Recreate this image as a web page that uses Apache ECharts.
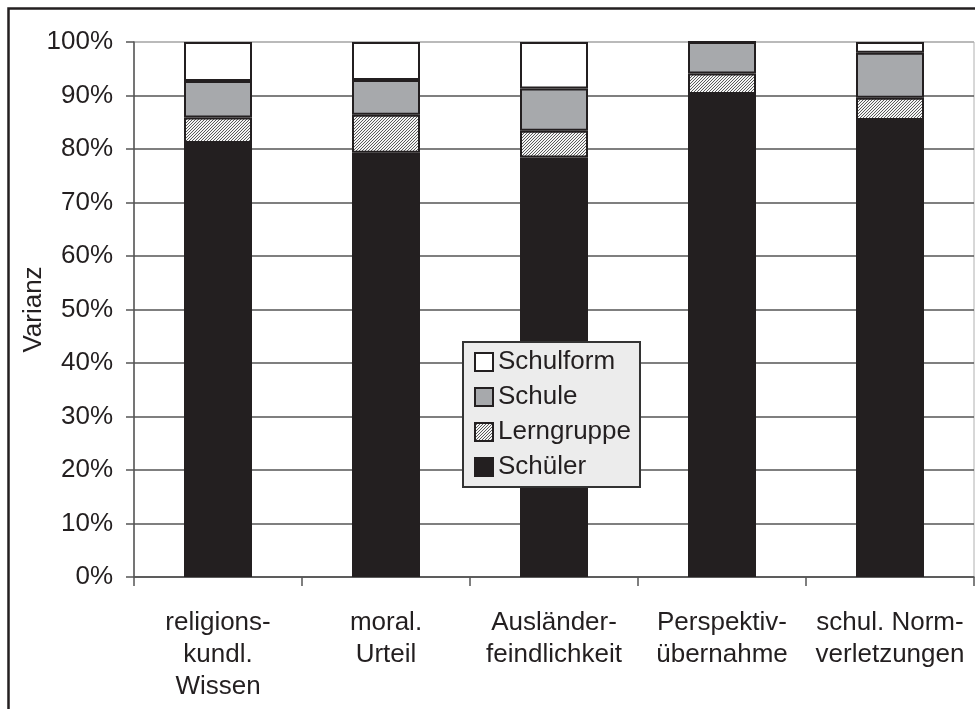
<!DOCTYPE html>
<html>
<head>
<meta charset="utf-8">
<script src="https://cdn.jsdelivr.net/npm/echarts@6/dist/echarts.min.js"></script>
<style>html,body{margin:0;padding:0;background:#fff}#c{width:975px;height:709px}</style>
</head>
<body>
<div id="c"></div>
<script>
const categories = ['religions-\nkundl.\nWissen', 'moral.\nUrteil', 'Ausländer-\nfeindlichkeit', 'Perspektiv-\nübernahme', 'schul. Norm-\nverletzungen'];
const schueler   = [81.1, 79.3, 78.4, 90.3, 85.4];
const lerngruppe = [4.8, 7.1, 5.0, 3.8, 4.2];
const schule     = [6.8, 6.5, 7.9, 5.9, 8.4];
const schulform  = [7.3, 7.1, 8.7, 0.0, 2.0];
const yTicks = [0, 10, 20, 30, 40, 50, 60, 70, 80, 90, 100];

const ink = '#231f20';
const font = 'Liberation Sans, Arial, sans-serif';

// fine hatch pattern
const pc = document.createElement('canvas');
pc.width = 3; pc.height = 3;
const g = pc.getContext('2d');
g.fillStyle = '#f4f4f4'; g.fillRect(0, 0, 3, 3);
g.fillStyle = '#5a5a5a';
for (let i = 0; i < 3; i++) { g.fillRect(i, 2 - i, 1, 1); }
const hatch = { image: pc, repeat: 'repeat' };

const chart = echarts.init(document.getElementById('c'), null, { renderer: 'canvas' });
const mk = (name, data, color) => ({
  name, type: 'bar', stack: 'total', data, barWidth: 68,
  itemStyle: { color, borderColor: ink, borderWidth: 2 },
  emphasis: { disabled: true }
});
const splitColors = yTicks.map((v, i) => i === yTicks.length - 1 ? '#b0b0b0' : '#555555');
chart.setOption({
  animation: false,
  backgroundColor: '#ffffff',
  textStyle: { fontFamily: font, color: ink },
  grid: { left: 134, top: 42, right: 1, bottom: 132, show: true, borderColor: '#b0b0b0', borderWidth: 1, backgroundColor: 'transparent' },
  graphic: [{ type: 'rect', shape: { x: 8.5, y: 8.5, width: 2000, height: 2000 }, style: { fill: null, stroke: ink, lineWidth: 2.5 }, silent: true }],
  legend: {
    orient: 'vertical', left: 463, top: 342,
    data: ['Schulform', 'Schule', 'Lerngruppe', 'Schüler'],
    backgroundColor: '#ececec', borderColor: '#333333', borderWidth: 2,
    padding: [7, 9, 7, 11], itemWidth: 18, itemHeight: 18, itemGap: 9,
    icon: 'rect',
    textStyle: { fontFamily: font, fontSize: 26, color: ink, lineHeight: 26 },
    selectedMode: false
  },
  xAxis: {
    type: 'category', data: categories,
    axisLine: { lineStyle: { color: '#555555', width: 1.5 } },
    axisTick: { show: true, length: 9, lineStyle: { color: '#555555', width: 1.5 } },
    axisLabel: { fontFamily: font, fontSize: 26, color: ink, lineHeight: 32, margin: 30, interval: 0 },
    splitLine: { show: false }
  },
  yAxis: {
    type: 'value', min: 0, max: 100, interval: 10,
    name: 'Varianz', nameLocation: 'middle', nameRotate: 90, nameGap: 87,
    nameMoveOverlap: false,
    nameTextStyle: { fontFamily: font, fontSize: 26, color: ink },
    axisLine: { show: true, lineStyle: { color: '#555555', width: 1.5 } },
    axisTick: { show: true, length: 8, lineStyle: { color: '#555555', width: 1.5 } },
    axisLabel: { fontFamily: font, fontSize: 26, color: ink, margin: 21, formatter: '{value}%' },
    splitLine: { show: true, lineStyle: { color: splitColors, width: 1.5 } }
  },
  series: [
    mk('Schüler', schueler, ink),
    mk('Lerngruppe', lerngruppe, hatch),
    mk('Schule', schule, '#a7a9ac'),
    mk('Schulform', schulform, '#ffffff')
  ]
});
</script>
</body>
</html>
